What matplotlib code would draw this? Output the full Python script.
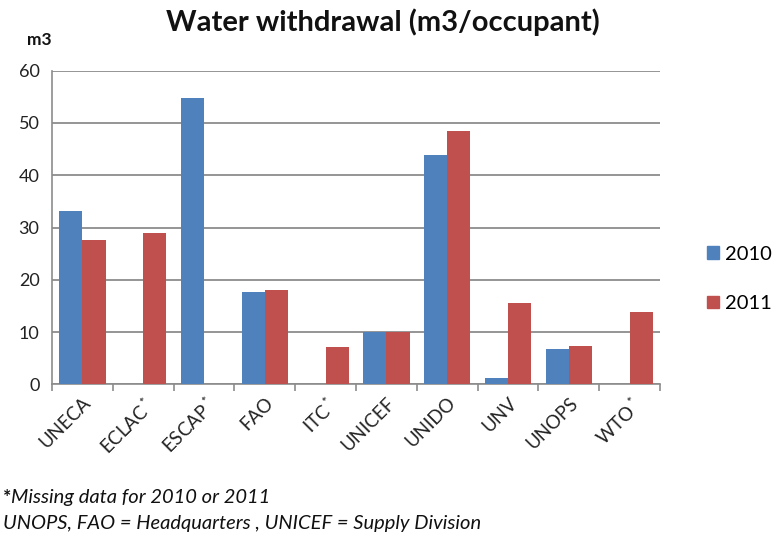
import numpy as np
import matplotlib
matplotlib.use("Agg")
import matplotlib.pyplot as plt
from matplotlib.patches import Patch

categories = ["UNECA", "ECLAC", "ESCAP", "FAO", "ITC", "UNICEF", "UNIDO", "UNV", "UNOPS", "WTO"]
tick_labels = ["UNECA", "ECLAC$^*$", "ESCAP$^*$", "FAO", "ITC$^*$", "UNICEF", "UNIDO", "UNV", "UNOPS", "WTO$^*$"]
values_2010 = [33.1, np.nan, 54.7, 17.6, np.nan, 10.0, 43.8, 1.3, 6.8, np.nan]
values_2011 = [27.7, 28.9, np.nan, 18.0, 7.2, 10.0, 48.5, 15.5, 7.3, 13.9]
series_names = ["2010", "2011"]

plt.rcParams['font.family'] = ['Lato', 'DejaVu Sans']
plt.rcParams['mathtext.fontset'] = 'custom'
plt.rcParams['mathtext.rm'] = 'Lato'

W, H = 776, 538
fig = plt.figure(figsize=(W/100, H/100), dpi=100)
ax = fig.add_axes([52/W, 1-384.3/H, (660-52)/W, (384.3-70.7)/H])

blue = "#4F81BD"
red = "#C0504D"
x = np.arange(len(categories))
bw = 0.38
ax.bar(x - bw/2, values_2010, bw, color=blue, zorder=3)
ax.bar(x + bw/2, values_2011, bw, color=red, zorder=3)

ax.set_xlim(-0.5, len(categories) - 0.5)
ax.set_ylim(0, 60)
ax.set_yticks(range(0, 61, 10))
ax.yaxis.grid(True, color="#8c8c8c", linewidth=1.3, zorder=0)
ax.set_axisbelow(True)
for s in ["top", "right"]:
    ax.spines[s].set_visible(False)
ax.spines["left"].set_color("#8c8c8c")
ax.spines["bottom"].set_color("#8c8c8c")
ax.spines["left"].set_linewidth(1.2)
ax.spines["bottom"].set_linewidth(1.2)
ax.tick_params(axis="y", length=0, labelsize=13, colors="#222222", pad=9)

ax.set_xticks(x)
ax.set_xticklabels(tick_labels, rotation=45, ha="right", rotation_mode="anchor",
                   fontsize=13.5, color="#222222")
ax.tick_params(axis="x", length=0, pad=7)
# category separator ticks
ax.set_xticks(np.arange(-0.5, len(categories), 1.0), minor=True)
ax.tick_params(axis="x", which="minor", length=5, color="#8c8c8c", width=1.2)

fig.text(383/W, 1-22/H, "Water withdrawal (m3/occupant)", ha="center", va="center",
         fontsize=21, fontweight="bold", color="#111111")
fig.text(27/W, 1-40/H, "m3", ha="left", va="center", fontsize=12.5,
         fontweight="bold", color="#111111")

handles = [Patch(color=blue, label=series_names[0]), Patch(color=red, label=series_names[1])]
fig.legend(handles=handles, loc="center left", bbox_to_anchor=(707/W, 1-279/H),
           frameon=False, fontsize=14.5, handlelength=0.6, handleheight=0.6,
           labelspacing=1.6, handletextpad=0.3, borderpad=0, borderaxespad=0)

fig.text(3/W, 1-497/H, "*", ha="left", va="center", fontsize=14, fontweight="bold",
         color="#111111")
fig.text(11/W, 1-497/H, "Missing data for 2010 or 2011", ha="left", va="center",
         fontsize=14.5, style="italic", color="#111111")
fig.text(3/W, 1-523/H, "UNOPS, FAO = Headquarters , UNICEF = Supply Division",
         ha="left", va="center", fontsize=14.5, style="italic", color="#111111")

fig.savefig("out.png", dpi=100)
